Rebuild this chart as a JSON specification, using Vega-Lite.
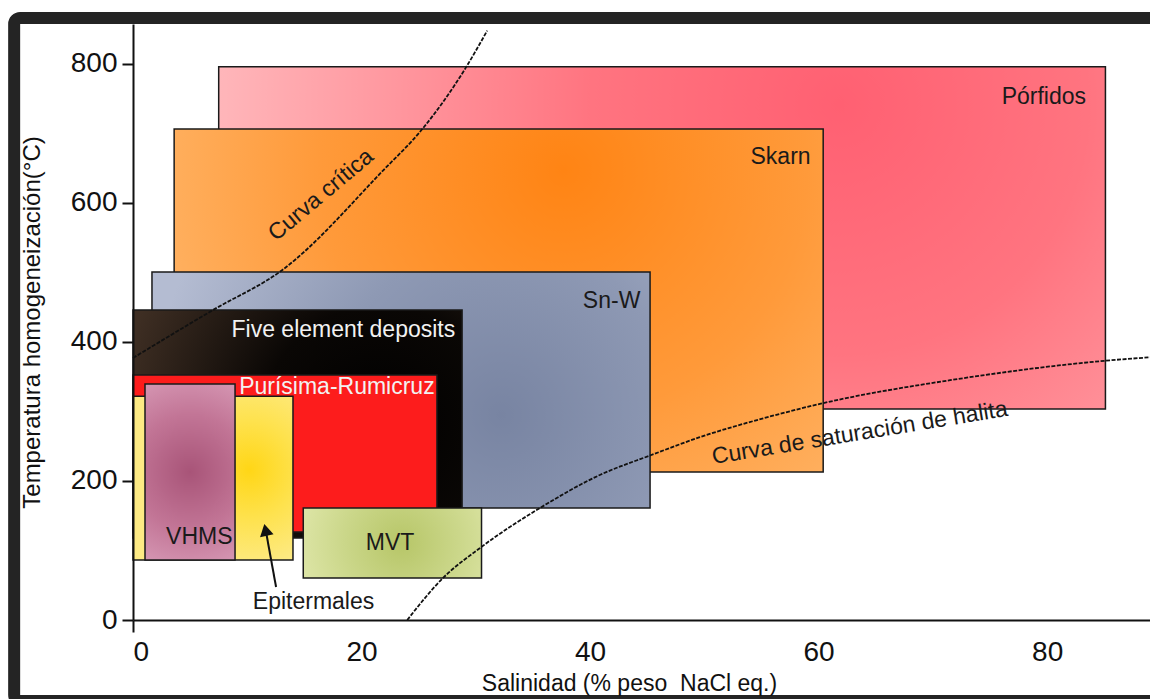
{
  "$schema": "https://vega.github.io/schema/vega-lite/v6.json",
  "width": 1017,
  "height": 596,
  "autosize": {"type": "none"},
  "padding": {"left": 133, "top": 24, "right": 0, "bottom": 79},
  "background": "white",
  "config": {"view": {"stroke": null}, "font": "Liberation Sans"},
  "datasets": {
    "deposits": [
      {"name": "Pórfidos", "x": 7.5, "x2": 85.1, "y": 303.6, "y2": 796},
      {"name": "Skarn", "x": 3.6, "x2": 60.4, "y": 213, "y2": 706.5},
      {"name": "Sn-W", "x": 1.66, "x2": 45.25, "y": 161, "y2": 500.7},
      {"name": "Five element deposits", "x": 0, "x2": 28.8, "y": 118, "y2": 446},
      {"name": "Purísima-Rumicruz", "x": 0, "x2": 26.6, "y": 126.6, "y2": 352.5},
      {"name": "Epitermales", "x": 0, "x2": 14.0, "y": 86.3, "y2": 322},
      {"name": "VHMS", "x": 1.05, "x2": 8.93, "y": 86.3, "y2": 339.6},
      {"name": "MVT", "x": 14.9, "x2": 30.5, "y": 60.4, "y2": 161}
    ],
    "curves": [
      {"curve": "critica", "x": 0, "y": 377},
      {"curve": "critica", "x": 7.0, "y": 446},
      {"curve": "critica", "x": 13.1, "y": 504},
      {"curve": "critica", "x": 21.9, "y": 647},
      {"curve": "critica", "x": 25.3, "y": 706},
      {"curve": "critica", "x": 29.1, "y": 794},
      {"curve": "critica", "x": 31.0, "y": 848},
      {"curve": "halita", "x": 24.0, "y": 0},
      {"curve": "halita", "x": 27.1, "y": 60},
      {"curve": "halita", "x": 30.4, "y": 104},
      {"curve": "halita", "x": 35.6, "y": 161},
      {"curve": "halita", "x": 40.9, "y": 209},
      {"curve": "halita", "x": 45.3, "y": 237},
      {"curve": "halita", "x": 49.6, "y": 263},
      {"curve": "halita", "x": 54.9, "y": 289},
      {"curve": "halita", "x": 60.4, "y": 312},
      {"curve": "halita", "x": 71.5, "y": 345},
      {"curve": "halita", "x": 85.1, "y": 373},
      {"curve": "halita", "x": 89.0, "y": 378}
    ],
    "labels": [
      {"label": "Pórfidos", "x": 83.4, "y": 752},
      {"label": "Skarn", "x": 59.3, "y": 666},
      {"label": "Sn-W", "x": 44.4, "y": 459},
      {"label": "Five element deposits", "x": 28.2, "y": 417},
      {"label": "Purísima-Rumicruz", "x": 26.4, "y": 335},
      {"label": "VHMS", "x": 5.8, "y": 119},
      {"label": "MVT", "x": 22.5, "y": 111},
      {"label": "Epitermales", "x": 15.8, "y": 26},
      {"label": "Curva crítica", "x": 16.45, "y": 611.5},
      {"label": "Curva de saturación de halita", "x": 63.6, "y": 269}
    ],
    "arrow": [{"x": 12.52, "y": 47.5, "x2": 11.66, "y2": 125.2}],
    "arrowhead": [{"x": 11.6, "y": 129.6}],
    "frame": [{"x": -10.4, "x2": 100, "y": -116.5, "y2": 866.2}]
  },
  "encoding": {
    "x": {
      "field": "x", "type": "quantitative",
      "scale": {"domain": [0, 89], "nice": false, "zero": false},
      "axis": {
        "title": "Salinidad (% peso\u00a0 NaCl eq.)",
        "values": [0, 20, 40, 60, 80],
        "grid": false,
        "zindex": 1,
        "domainColor": "#111", "domainWidth": 2,
        "ticks": true, "tickSize": 12, "tickWidth": 2, "tickColor": "#111",
        "tickOpacity": {"condition": {"test": "datum.value === 0", "value": 1}, "value": 0},
        "labelFont": "Liberation Sans", "labelFontSize": 28, "labelColor": "#111", "labelPadding": 6,
        "titleFont": "Liberation Sans", "titleFontSize": 23, "titleFontWeight": "normal", "titleColor": "#111",
        "titleX": 496, "titlePadding": 6
      }
    },
    "y": {
      "field": "y", "type": "quantitative",
      "scale": {"domain": [0, 857.5], "nice": false, "zero": false},
      "axis": {
        "title": "Temperatura homogeneización(°C)",
        "values": [0, 200, 400, 600, 800],
        "grid": false,
        "zindex": 1,
        "domainColor": "#111", "domainWidth": 2,
        "ticks": true, "tickSize": 11, "tickWidth": 2, "tickColor": "#111",
        "labelFont": "Liberation Sans", "labelFontSize": 28, "labelColor": "#111", "labelPadding": 5,
        "titleFont": "Liberation Sans", "titleFontSize": 24, "titleFontWeight": "normal", "titleColor": "#111",
        "titlePadding": 26
      }
    }
  },
  "layer": [
    {
      "data": {"name": "frame"},
      "mark": {"type": "rect", "fill": null, "fillOpacity": 0, "stroke": "#242424", "strokeWidth": 12, "cornerRadius": 6, "clip": false},
      "encoding": {"x2": {"field": "x2"}, "y2": {"field": "y2"}}
    },
    {
      "data": {"name": "deposits"},
      "transform": [{"filter": "datum.name === 'Pórfidos'"}],
      "mark": {"type": "rect", "stroke": "#1a1a1a", "strokeWidth": 1.5,
        "fill": {"gradient": "radial", "x1": 0.7, "y1": 0.35, "x2": 0.7, "y2": 0.35, "r1": 0, "r2": 0.7,
          "stops": [{"offset": 0, "color": "#ff6072"}, {"offset": 0.4, "color": "#ff7480"}, {"offset": 1, "color": "#ffb6ba"}]}},
      "encoding": {"x2": {"field": "x2"}, "y2": {"field": "y2"}}
    },
    {
      "data": {"name": "deposits"},
      "transform": [{"filter": "datum.name === 'Skarn'"}],
      "mark": {"type": "rect", "stroke": "#1a1a1a", "strokeWidth": 1.5,
        "fill": {"gradient": "radial", "x1": 0.6, "y1": 0.3, "x2": 0.6, "y2": 0.3, "r1": 0, "r2": 0.75,
          "stops": [{"offset": 0, "color": "#ff8414"}, {"offset": 0.5, "color": "#ff9a3a"}, {"offset": 1, "color": "#ffbb72"}]}},
      "encoding": {"x2": {"field": "x2"}, "y2": {"field": "y2"}}
    },
    {
      "data": {"name": "deposits"},
      "transform": [{"filter": "datum.name === 'Sn-W'"}],
      "mark": {"type": "rect", "stroke": "#1a1a1a", "strokeWidth": 1.5,
        "fill": {"gradient": "radial", "x1": 0.7, "y1": 0.55, "x2": 0.7, "y2": 0.55, "r1": 0, "r2": 0.7,
          "stops": [{"offset": 0, "color": "#7884a2"}, {"offset": 0.5, "color": "#8e99b4"}, {"offset": 1, "color": "#b4bcd2"}]}},
      "encoding": {"x2": {"field": "x2"}, "y2": {"field": "y2"}}
    },
    {
      "data": {"name": "deposits"},
      "transform": [{"filter": "datum.name === 'Five element deposits'"}],
      "mark": {"type": "rect", "stroke": "#1a1a1a", "strokeWidth": 1.5,
        "fill": {"gradient": "radial", "x1": 0.75, "y1": 0.5, "x2": 0.75, "y2": 0.5, "r1": 0, "r2": 0.8,
          "stops": [{"offset": 0, "color": "#000000"}, {"offset": 0.45, "color": "#0a0705"}, {"offset": 1, "color": "#3e2e23"}]}},
      "encoding": {"x2": {"field": "x2"}, "y2": {"field": "y2"}}
    },
    {
      "data": {"name": "deposits"},
      "transform": [{"filter": "datum.name === 'Purísima-Rumicruz'"}],
      "mark": {"type": "rect", "stroke": "#1a1a1a", "strokeWidth": 1.5, "fill": "#fd1c1c"},
      "encoding": {"x2": {"field": "x2"}, "y2": {"field": "y2"}}
    },
    {
      "data": {"name": "deposits"},
      "transform": [{"filter": "datum.name === 'Epitermales'"}],
      "mark": {"type": "rect", "stroke": "#1a1a1a", "strokeWidth": 1.5,
        "fill": {"gradient": "radial", "x1": 0.72, "y1": 0.45, "x2": 0.72, "y2": 0.45, "r1": 0, "r2": 0.6,
          "stops": [{"offset": 0, "color": "#ffd616"}, {"offset": 0.5, "color": "#fee24e"}, {"offset": 1, "color": "#fdea84"}]}},
      "encoding": {"x2": {"field": "x2"}, "y2": {"field": "y2"}}
    },
    {
      "data": {"name": "deposits"},
      "transform": [{"filter": "datum.name === 'VHMS'"}],
      "mark": {"type": "rect", "stroke": "#1a1a1a", "strokeWidth": 1.5,
        "fill": {"gradient": "radial", "x1": 0.5, "y1": 0.5, "x2": 0.5, "y2": 0.5, "r1": 0, "r2": 0.65,
          "stops": [{"offset": 0, "color": "#a85478"}, {"offset": 0.5, "color": "#c27596"}, {"offset": 1, "color": "#dca2bd"}]}},
      "encoding": {"x2": {"field": "x2"}, "y2": {"field": "y2"}}
    },
    {
      "data": {"name": "deposits"},
      "transform": [{"filter": "datum.name === 'MVT'"}],
      "mark": {"type": "rect", "stroke": "#1a1a1a", "strokeWidth": 1.5,
        "fill": {"gradient": "radial", "x1": 0.55, "y1": 0.5, "x2": 0.55, "y2": 0.5, "r1": 0, "r2": 0.65,
          "stops": [{"offset": 0, "color": "#b7c668"}, {"offset": 0.5, "color": "#cbd78a"}, {"offset": 1, "color": "#e2e9ae"}]}},
      "encoding": {"x2": {"field": "x2"}, "y2": {"field": "y2"}}
    },
    {
      "data": {"name": "curves"},
      "transform": [{"filter": "datum.curve === 'critica'"}],
      "mark": {"type": "line", "interpolate": "monotone", "stroke": "#111", "strokeWidth": 1.8, "strokeDash": [4, 1.5]},
      "encoding": {}
    },
    {
      "data": {"name": "curves"},
      "transform": [{"filter": "datum.curve === 'halita'"}],
      "mark": {"type": "line", "interpolate": "monotone", "stroke": "#111", "strokeWidth": 1.8, "strokeDash": [4, 1.5]},
      "encoding": {}
    },
    {
      "data": {"name": "arrow"},
      "mark": {"type": "rule", "stroke": "#111", "strokeWidth": 2},
      "encoding": {"x2": {"field": "x2"}, "y2": {"field": "y2"}}
    },
    {
      "data": {"name": "arrowhead"},
      "mark": {"type": "point", "shape": "triangle-up", "filled": true, "fill": "#111", "size": 190, "angle": -12, "opacity": 1},
      "encoding": {}
    },
    {
      "data": {"name": "labels"},
      "transform": [{"filter": "indexof(['Pórfidos','Skarn','Sn-W'], datum.label) >= 0"}],
      "mark": {"type": "text", "align": "right", "baseline": "middle", "fontSize": 23, "font": "Liberation Sans", "fill": "#1a1a1a"},
      "encoding": {"text": {"field": "label"}}
    },
    {
      "data": {"name": "labels"},
      "transform": [{"filter": "indexof(['Five element deposits','Purísima-Rumicruz'], datum.label) >= 0"}],
      "mark": {"type": "text", "align": "right", "baseline": "middle", "fontSize": 23, "font": "Liberation Sans", "fill": "#f2f2f2"},
      "encoding": {"text": {"field": "label"}}
    },
    {
      "data": {"name": "labels"},
      "transform": [{"filter": "indexof(['VHMS','MVT','Epitermales'], datum.label) >= 0"}],
      "mark": {"type": "text", "align": "center", "baseline": "middle", "fontSize": 23, "font": "Liberation Sans", "fill": "#1a1a1a"},
      "encoding": {"text": {"field": "label"}}
    },
    {
      "data": {"name": "labels"},
      "transform": [{"filter": "datum.label === 'Curva crítica'"}],
      "mark": {"type": "text", "align": "center", "baseline": "middle", "fontSize": 23, "font": "Liberation Sans", "fill": "#1a1a1a", "angle": -40},
      "encoding": {"text": {"field": "label"}}
    },
    {
      "data": {"name": "labels"},
      "transform": [{"filter": "datum.label === 'Curva de saturación de halita'"}],
      "mark": {"type": "text", "align": "center", "baseline": "middle", "fontSize": 23, "font": "Liberation Sans", "fill": "#1a1a1a", "angle": -9.3},
      "encoding": {"text": {"field": "label"}}
    }
  ]
}
